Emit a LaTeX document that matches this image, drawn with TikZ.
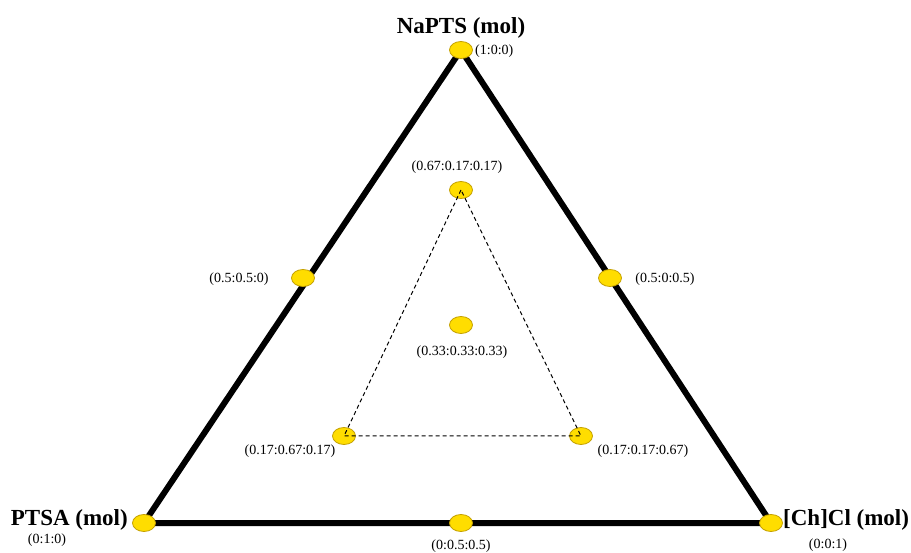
\documentclass[tikz,border=0pt]{standalone}
\usepackage{fontspec}
\setmainfont{Liberation Serif}
\usetikzlibrary{shapes.geometric,backgrounds}
\definecolor{ptfill}{RGB}{255,221,0}
\definecolor{ptdraw}{RGB}{196,160,0}
\tikzset{
  pt/.style={ellipse,draw=ptdraw,fill=ptfill,line width=0.8pt,minimum width=23pt,minimum height=17pt,inner sep=0pt},
  lab/.style={font=\fontsize{14}{16}\selectfont,inner sep=0pt},
  ttl/.style={font=\fontsize{23}{26}\selectfont\bfseries,inner sep=0pt},
  outeredge/.style={line width=6pt,line join=miter},
  dashline/.style={line width=1pt,dash pattern=on 4pt off 3pt}
}
\begin{document}
\begin{tikzpicture}[x=1pt,y=-1pt]
\useasboundingbox (0,0) rectangle (911,553);
% corner and edge points
\node[pt] (t) at (461,50) {};
\node[pt] (l) at (144,523) {};
\node[pt] (r) at (771,523) {};
\node[pt] (ml) at (303,278) {};
\node[pt] (mr) at (610,278) {};
\node[pt] (mb) at (461,523) {};
% inner points
\node[pt] (it) at (461,190) {};
\node[pt] (c) at (461,325) {};
\node[pt] (il) at (344,436) {};
\node[pt] (ir) at (581,436) {};
% outer triangle
\begin{scope}[on background layer]
\draw[outeredge] (t.center) -- (l.center) -- (r.center) -- cycle;
\end{scope}
% inner dashed triangle
\draw[dashline] (it.center) -- (il.center) -- (ir.center) -- cycle;
% titles
\node[ttl] (tt) at (461,28) {NaPTS (mol)};
\node[ttl,anchor=east] (tl) at (128,520) {PTSA (mol)};
\node[ttl,anchor=west] (tr) at (783,520) {[Ch]Cl (mol)};
% labels
\node[lab,anchor=west] (lt) at (475,51) {(1:0:0)};
\node[lab] (ll) at (47,540) {(0:1:0)};
\node[lab] (lr) at (828,545) {(0:0:1)};
\node[lab] (lml) at (239,279) {(0.5:0.5:0)};
\node[lab] (lmr) at (665,279) {(0.5:0:0.5)};
\node[lab] (lmb) at (461,546) {(0:0.5:0.5)};
\node[lab] (lit) at (457,167) {(0.67:0.17:0.17)};
\node[lab] (lc) at (462,352) {(0.33:0.33:0.33)};
\node[lab] (lil) at (290,451) {(0.17:0.67:0.17)};
\node[lab] (lir) at (643,451) {(0.17:0.17:0.67)};
\end{tikzpicture}
\end{document}
